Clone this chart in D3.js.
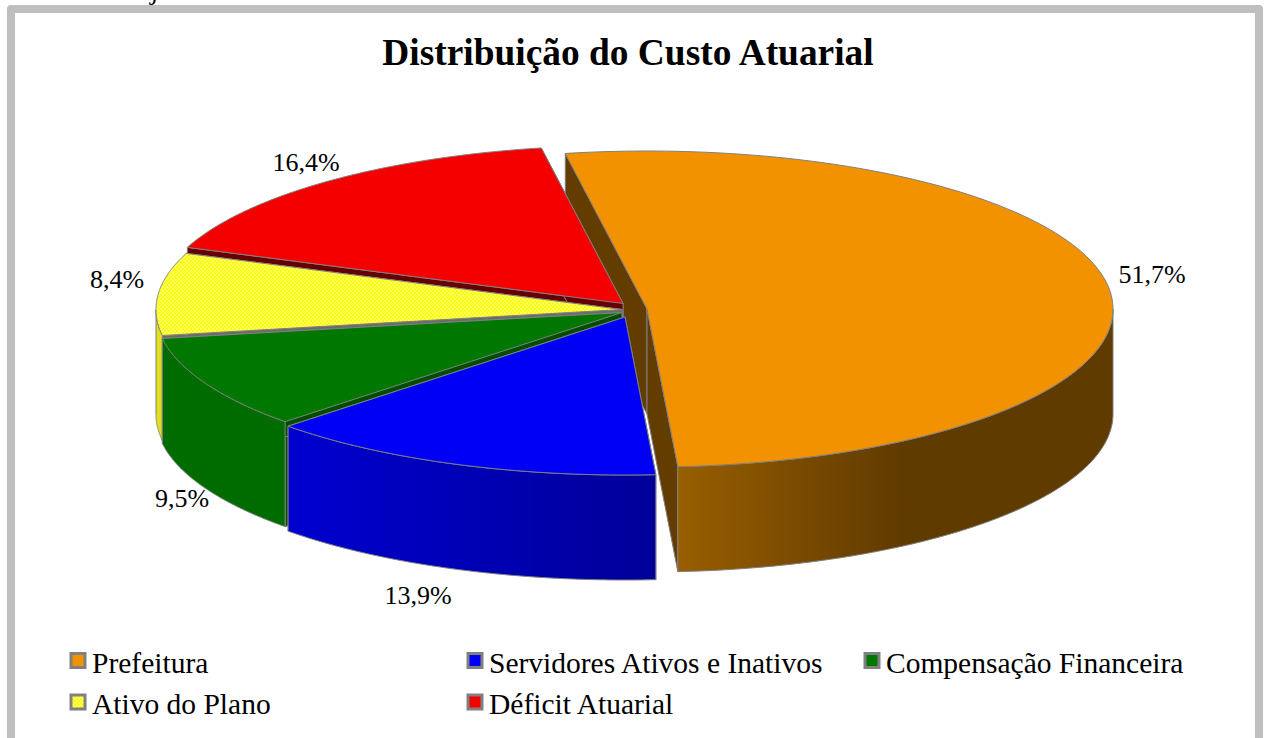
<!DOCTYPE html>
<html>
<head>
<meta charset="utf-8">
<script src="https://cdn.jsdelivr.net/npm/d3@7"></script>
<style>
  body { margin: 0; background: #fff; }
  text { font-family: "Liberation Serif", "Times New Roman", serif; fill: #000; }
</style>
</head>
<body>
<div id="chart"></div>
<script>
const title = "Distribuição do Custo Atuarial";
const categories = ["Prefeitura", "Servidores Ativos e Inativos", "Compensação Financeira", "Ativo do Plano", "Déficit Atuarial"];
const shares = [51.7, 13.9, 9.5, 8.4, 16.4];
const labels = ["51,7%", "13,9%", "9,5%", "8,4%", "16,4%"];

// sizing
const width = 1267, height = 738;
const rx = 466, ry = 158, depth = 105;
const cx = 631, cy = 310;
// how far each slice is pulled out of the pie
const explodeX = [16, -6, -9, -9, -8];
const explodeY = [-1, 7, 2.5, -0.5, -6.5];
const startAngle = -10.1 * Math.PI / 180;

const topColors = ["#f39200", "#0000f5", "#007800", "url(#dots)", "#f50000"];
const wallColors = ["#633d00", "#00004d", "#004d00", "#6b6b6b", "#660000"];
const sideFrom = ["#985e00", "#0000d0", "#006c00", "#e0e020", "#a00000"];
const sideTo = ["#603b00", "#000099", "#006c00", "#e0e020", "#a00000"];
const labelPos = [[1152, 283], [418, 604], [182, 507], [117, 288], [306, 171]];
const legendPos = [[70, 664.5], [467, 664.5], [864, 664.5], [70, 706], [467, 706]];

const svg = d3.select("#chart").append("svg")
  .attr("width", width).attr("height", height)
  .style("display", "block");

const defs = svg.append("defs");
const dots = defs.append("pattern").attr("id", "dots")
  .attr("width", 4).attr("height", 4).attr("patternUnits", "userSpaceOnUse");
dots.append("rect").attr("width", 4).attr("height", 4).attr("fill", "#f8f81e");
dots.append("rect").attr("width", 2).attr("height", 2).attr("fill", "#ffff50");
dots.append("rect").attr("x", 2).attr("y", 2).attr("width", 2).attr("height", 2).attr("fill", "#ffff50");

// frame, open at the bottom because the picture cuts it off
svg.append("path")
  .attr("d", `M11,${height + 10}V9H1259V${height + 10}`)
  .attr("fill", "none").attr("stroke", "#bfbfbf").attr("stroke-width", 8)
  .attr("stroke-linejoin", "round");

// stray descender of the text above the chart
svg.append("text").attr("x", 152).attr("y", -1)
  .attr("font-size", 28).attr("font-style", "italic").text("j");

// title
svg.append("text").attr("x", 628).attr("y", 65)
  .attr("text-anchor", "middle").attr("font-size", 37.4).attr("font-weight", "bold")
  .text(title);

// pie angles, clockwise from 12 o'clock
const slices = d3.pie().sort(null)
  .startAngle(startAngle).endAngle(startAngle + 2 * Math.PI)(shares)
  .map((d, i) => ({
    i, a0: d.startAngle, a1: d.endAngle,
    x: cx + explodeX[i],
    y: cy + explodeY[i]
  }));

const px = (s, a) => s.x + rx * Math.sin(a);
const py = (s, a) => s.y - ry * Math.cos(a);
const arcPoints = (s, a0, a1) => d3.range(0, 121).map(k => {
  const a = a0 + (a1 - a0) * k / 120;
  return [px(s, a), py(s, a)];
});
const line = d3.line();

// gradients for the outer sides, running left to right across the slice
slices.forEach(s => {
  const g = defs.append("linearGradient").attr("id", "side" + s.i)
    .attr("gradientUnits", "userSpaceOnUse");
  if (s.i === 0) {
    g.attr("x1", 679).attr("x2", 900);
  } else {
    g.attr("x1", 288).attr("x2", 656);
  }
  g.append("stop").attr("offset", 0).attr("stop-color", sideFrom[s.i]);
  g.append("stop").attr("offset", 1).attr("stop-color", sideTo[s.i]);
});

const stroke = "#808080";
function poly(g, pts, fill) {
  g.append("path").attr("d", line(pts) + "Z")
    .attr("fill", fill).attr("stroke", stroke).attr("stroke-width", 1)
    .attr("stroke-linejoin", "round");
}

function drawSlice(s) {
  const g = svg.append("g");
  const e0 = [px(s, s.a0), py(s, s.a0)];
  const e1 = [px(s, s.a1), py(s, s.a1)];
  const c = [s.x, s.y];
  const down = p => [p[0], p[1] + depth];

  // inner walls
  poly(g, [c, e0, down(e0), down(c)], wallColors[s.i]);
  poly(g, [c, e1, down(e1), down(c)], wallColors[s.i]);

  // outer side, front half of the ellipse only
  const from = Math.max(s.a0, Math.PI / 2);
  const to = Math.min(s.a1, 3 * Math.PI / 2);
  if (to > from) {
    const rim = arcPoints(s, from, to);
    poly(g, rim.concat(rim.slice().reverse().map(down)), `url(#side${s.i})`);
  }

  // top face
  poly(g, [c].concat(arcPoints(s, s.a0, s.a1)), topColors[s.i]);
}

// back to front: orange first, then round the left side to the blue slice
[0, 4, 3, 2, 1].forEach(i => drawSlice(slices[i]));

// data labels
svg.append("g").selectAll("text")
  .data(labels).join("text")
  .attr("x", (d, i) => labelPos[i][0])
  .attr("y", (d, i) => labelPos[i][1])
  .attr("text-anchor", "middle")
  .attr("font-size", 26)
  .text(d => d);

// legend
const legend = svg.append("g").selectAll("g")
  .data(categories).join("g")
  .attr("transform", (d, i) => `translate(${legendPos[i][0]},${legendPos[i][1]})`);
legend.append("rect")
  .attr("x", 1).attr("y", -11).attr("width", 14).attr("height", 14)
  .attr("fill", (d, i) => topColors[i])
  .attr("stroke", stroke).attr("stroke-width", 3);
legend.append("text")
  .attr("x", 22).attr("y", 8)
  .attr("font-size", 29.5)
  .text(d => d);
</script>
</body>
</html>
